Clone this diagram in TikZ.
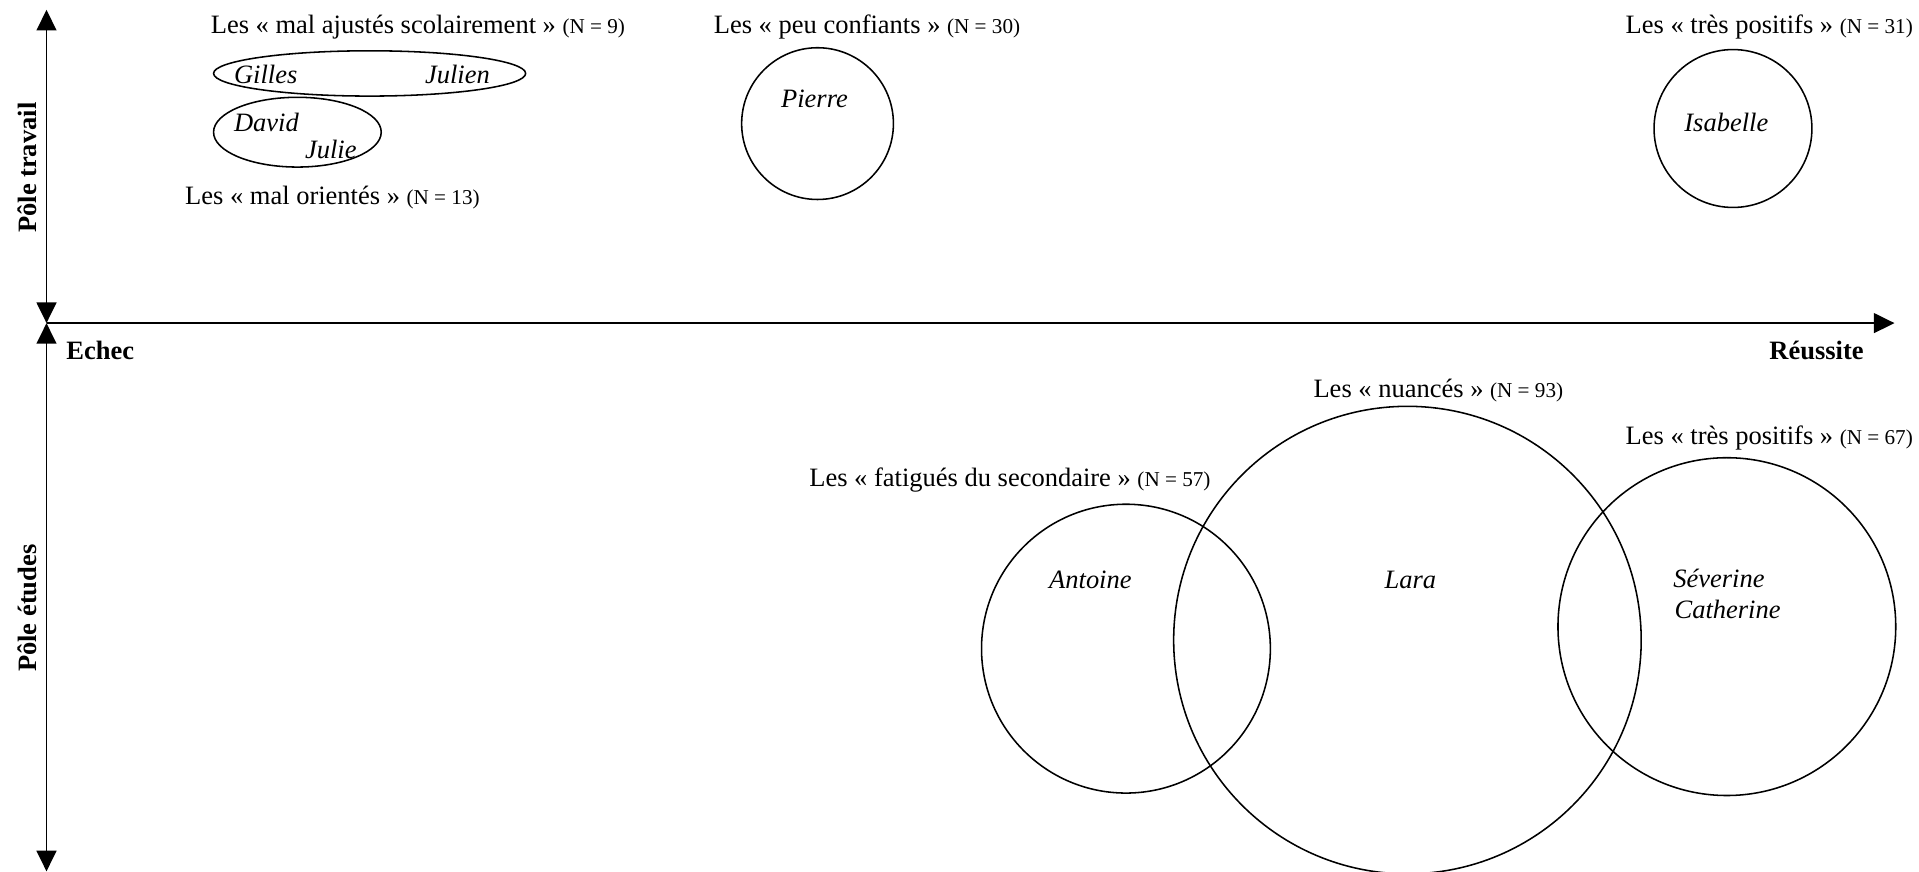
\documentclass[tikz,border=0pt]{standalone}
\usepackage{fontspec}
\setmainfont{Liberation Serif}
\usetikzlibrary{arrows.meta, shapes.geometric, positioning}
\tikzstyle{lbl}=[anchor=west,inner sep=0pt,font=\fontsize{15.4}{18}\selectfont]
\tikzstyle{nom}=[lbl,font=\fontsize{15.4}{18}\selectfont\itshape]
\tikzstyle{pole}=[inner sep=0pt,font=\fontsize{15.4}{18}\selectfont\bfseries]
\tikzstyle{grp}=[draw,circle,line width=0.9pt,inner sep=0pt]
\tikzstyle{ovl}=[draw,ellipse,line width=0.9pt,inner sep=0pt]
\tikzstyle{axe}=[line width=1.1pt,>={Triangle[length=12pt,width=11.5pt]}]
\newcommand\eff[1]{{\fontsize{12.3}{14}\selectfont(N = #1)}}

\begin{document}
\begin{tikzpicture}[x=0.25mm,y=-0.25mm]
\useasboundingbox (0,0) rectangle (1568,712.5);
% axes
\coordinate (o) at (38,264);
\coordinate (haut) at (38,8);
\coordinate (bas) at (38,712);
\coordinate (droite) at (1548,264);
\draw[axe,<->] (haut) -- (o);
\draw[axe,<->] (o) -- (bas);
\draw[axe,->] (o) -- (droite);
\node[pole,rotate=90] (travail) at (22,137) {Pôle travail};
\node[pole,rotate=90] (etudes) at (22,497) {Pôle études};
\node[pole,anchor=west] (echec) at (54,286) {Echec};
\node[pole,anchor=east] (reussite) at (1523,286) {Réussite};
% groupes
\node[ovl,minimum width=63.75mm,minimum height=9.25mm] (ajustes) at (302,60) {};
\node[ovl,minimum width=34.25mm,minimum height=14.25mm] (orientes) at (243,108) {};
\foreach \n/\x/\y/\d in {confiants/668/101/31, positifsA/1416/105/32.25,
                         fatigues/920/530/59, nuances/1150/523/95.5, positifsB/1411/512/69}
    {\node[grp,minimum size=\d mm] (\n) at (\x,\y) {};}
% titres
\node[lbl] (tajustes) at (172,22) {Les «~mal ajustés scolairement~» \eff{9}};
\node[lbl] (tconfiants) at (583,22) {Les «~peu confiants~» \eff{30}};
\node[lbl] (tpositifsA) at (1328,22) {Les «~très positifs~» \eff{31}};
\node[lbl] (torientes) at (151,161) {Les «~mal orientés~» \eff{13}};
\node[lbl] (tnuances) at (1073,319) {Les «~nuancés~» \eff{93}};
\node[lbl] (tpositifsB) at (1328,358) {Les «~très positifs~» \eff{67}};
\node[lbl] (tfatigues) at (661,392) {Les «~fatigués du secondaire~» \eff{57}};
% individus
\foreach \n/\x/\y/\t in {gilles/191/61/Gilles, julien/347/61/Julien, david/191/100/David,
                         julie/249/122/Julie, pierre/638/81/Pierre, isabelle/1376/100/Isabelle,
                         antoine/857/474/Antoine, lara/1131/474/Lara,
                         severine/1367/473/Séverine, catherine/1368/498/Catherine}
    {\node[nom] (\n) at (\x,\y) {\t};}
\end{tikzpicture}
\end{document}
